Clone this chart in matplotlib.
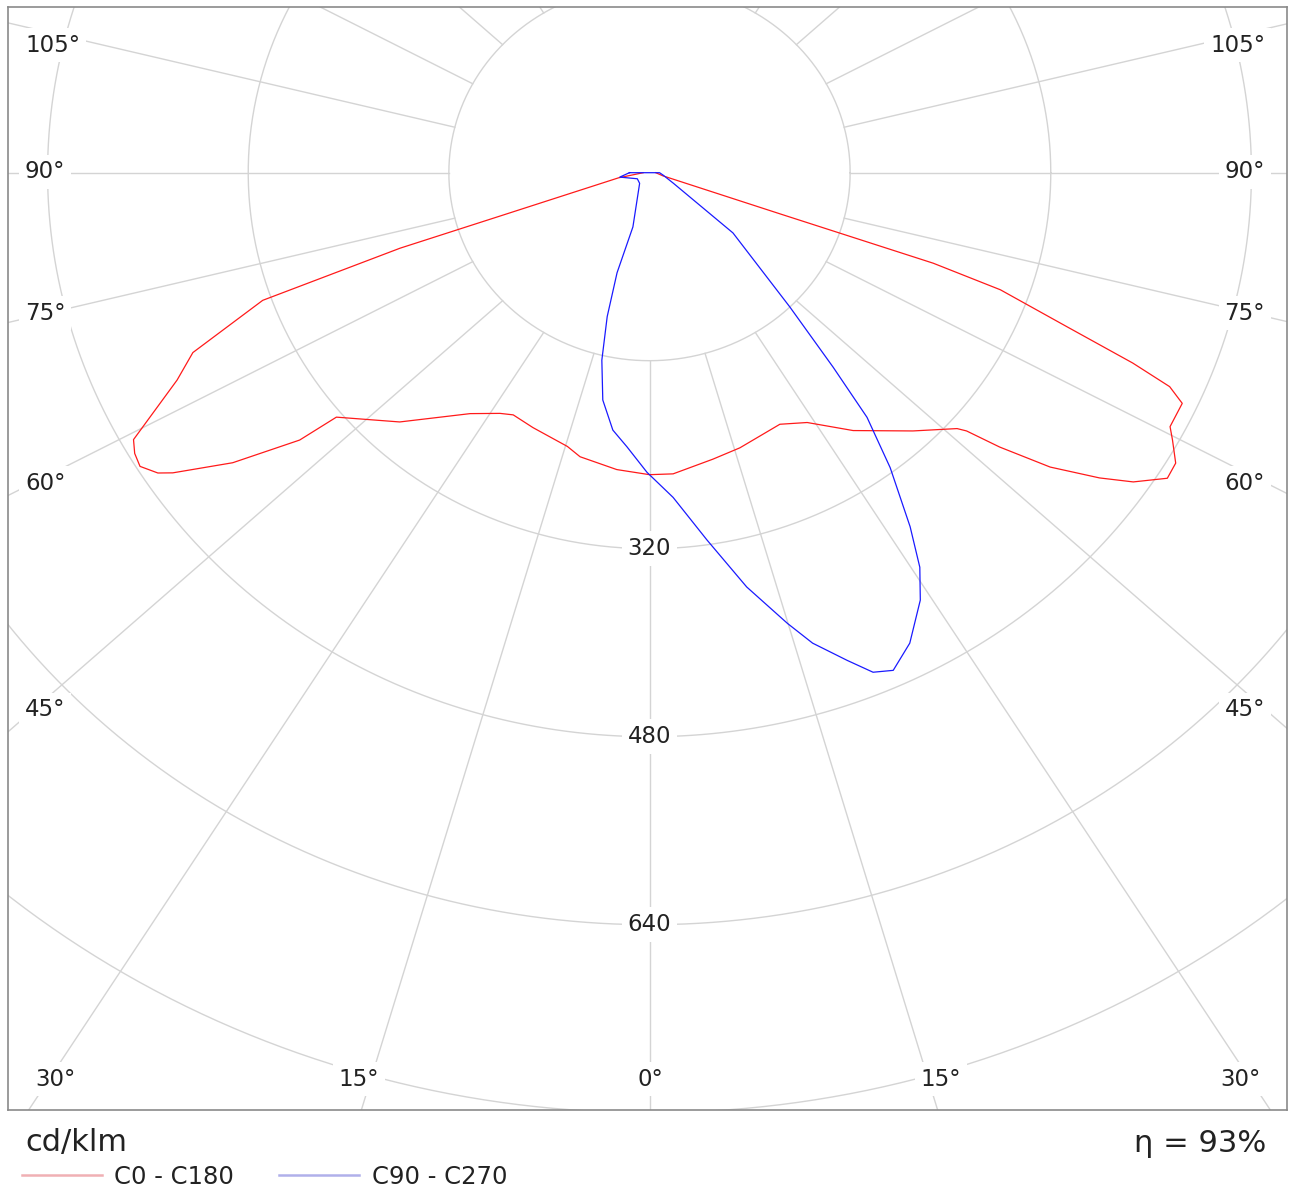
import numpy as np
import matplotlib.pyplot as plt
from matplotlib.lines import Line2D

plt.rcParams['font.family'] = ['DejaVu Sans']

# luminous intensity (cd/klm) vs gamma angle, negative gamma = C180 / C270 half
c0_gamma = [-90, -80, -72.8, -72.1, -70.6, -67.2, -64.9, -61.1, -59.8, -58.4, -56.9,
            -56.1, -53.4, -50.8, -50.2, -43.2, -34.9, -30.2, -27.8, -23.2, -15.7,
            -12.9, -5.9, 0, 4.2, 11.7, 17.1, 25.9, 30.6, 36.5, 43.7, 48.4, 49.0,
            50.1, 51.9, 54.1, 55.7, 57.8, 59.5, 61.4, 62.5, 65.2, 66.3, 67.2, 68.5,
            70.4, 71.2, 71.4, 76, 90]
c0_cd = [5, 25, 125, 209, 327, 395, 416, 470, 475, 477, 468,
         458, 414, 360, 325, 291, 250, 237, 233, 236, 242,
         248, 254, 257, 257, 249, 245, 238, 247, 273, 304, 328, 335,
         364, 406, 443, 467, 488, 487, 475, 468, 468, 453, 418, 358,
         297, 239, 110, 11, 5]

c90_gamma = [-90, -81, -62, -41, -16, -16.9, -15.4, -13.4, -10.9, -7.6, -4.4, -0.45,
             3.9, 8.35, 12.4, 16.0, 18.0, 20.8, 22.75, 24.65, 27.4, 30.7, 32.7,
             34.6, 37.4, 39.8, 41.5, 44.4, 52.4, 64.8, 79.5, 90]
c90_cd = [16, 24, 11, 12, 48, 89, 127, 164, 197, 221, 234, 255,
          277, 316, 361, 399, 421, 444, 461, 466, 451, 423, 399,
          366, 316, 271, 221, 160, 84, 21, 11, 8]

rings = [160, 320, 480, 640, 800, 960]
ring_labels = [320, 480, 640]
spokes = np.arange(0, 360, 15)

side_angles = [105, 90, 75, 60, 45]
bottom_angles = [30, 15, 0, 15, 30]

# layout (image pixels)
W, H = 1290, 1196
CX, CY = 649.5, 172.7        # pole
SX, SY = 1.254, 1.175        # px per cd/klm
L, T, R, B = 8, 7, 1287, 1110
SKEW = 1.075                 # spokes are drawn slightly spread horizontally
side_y = [45, 172, 313, 483, 710]
bottom_x = [55, 359, 650, 941, 1240]
label_y = 1079

GRID = '#d4d4d4'
TXT = '#222222'
FS = 16.5


def to_xy(gamma, cd):
    g = np.radians(gamma)
    cd = np.asarray(cd, float)
    return cd * np.sin(g), -cd * np.cos(g)


def px(x, y):
    return (x - CX) / SX, (CY - y) / SY


fig = plt.figure(figsize=(W / 100, H / 100), dpi=100)
ax = fig.add_axes([L / W, 1 - B / H, (R - L) / W, (B - T) / H])
ax.set_xlim((L - CX) / SX, (R - CX) / SX)
ax.set_ylim((CY - B) / SY, (CY - T) / SY)
ax.set_xticks([])
ax.set_yticks([])
for s in ax.spines.values():
    s.set_color('#8a8a8a')
    s.set_linewidth(1.2)

# grid
t = np.linspace(0, 2 * np.pi, 721)
for r in rings:
    ax.plot(r * np.cos(t), r * np.sin(t), color=GRID, lw=1.0, zorder=1)
for a in spokes:
    d = np.array([SKEW * np.sin(np.radians(a)), -np.cos(np.radians(a))])
    d /= np.hypot(*d)
    ax.plot([160 * d[0], 2000 * d[0]], [160 * d[1], 2000 * d[1]],
            color=GRID, lw=1.0, zorder=1)

box = dict(boxstyle='square,pad=0.25', fc='white', ec='none')
for v in ring_labels:
    ax.text(0, -v, str(v), ha='center', va='center', fontsize=FS, color=TXT,
            bbox=box, zorder=3)
for a, y in zip(side_angles, side_y):
    ax.text(*px(25, y), f'{a}°', ha='left', va='center', fontsize=FS,
            color=TXT, bbox=box, zorder=3)
    ax.text(*px(1265, y), f'{a}°', ha='right', va='center', fontsize=FS,
            color=TXT, bbox=box, zorder=3)
for a, x in zip(bottom_angles, bottom_x):
    ax.text(*px(x, label_y), f'{a}°', ha='center', va='center', fontsize=FS,
            color=TXT, bbox=box, zorder=3)

# curves
x0, y0 = to_xy(c0_gamma, c0_cd)
ax.plot(x0, y0, color='#ff1a1a', lw=0.9, zorder=4)
x90, y90 = to_xy(c90_gamma + c90_gamma[:1], c90_cd + c90_cd[:1])
ax.plot(x90, y90, color='#1a1aff', lw=0.9, zorder=4)

# footer
fig.text(25 / W, 1 - 1143 / H, 'cd/klm', ha='left', va='center',
         fontsize=22, color=TXT)
fig.text(1266 / W, 1 - 1143 / H, 'η = 93%', ha='right', va='center',
         fontsize=22, color=TXT)
handles = [Line2D([], [], color='#f0b0b4', lw=1.8),
           Line2D([], [], color='#b0b0ea', lw=1.8)]
fig.legend(handles, ['C0 - C180', 'C90 - C270'], loc='center left',
           bbox_to_anchor=(22 / W, 1 - 1177 / H), ncol=2, frameon=False,
           fontsize=17.5, handlelength=3.3, handletextpad=0.5,
           columnspacing=1.85, labelcolor=TXT, borderpad=0, borderaxespad=0)

fig.savefig('out.png', dpi=100, facecolor='white')
